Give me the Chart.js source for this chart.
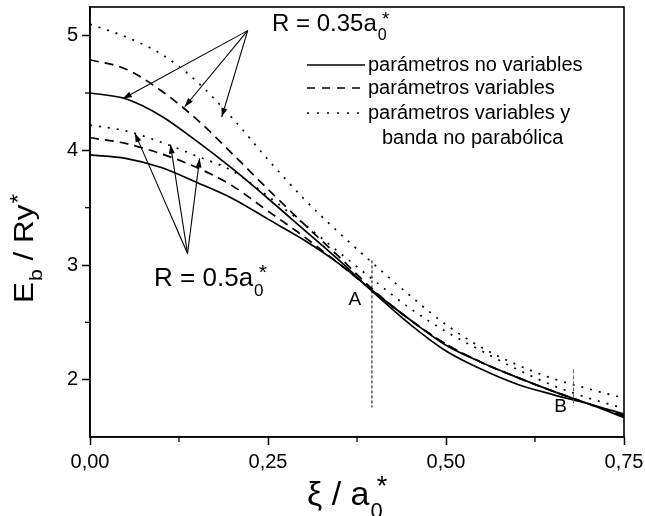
<!DOCTYPE html>
<html><head><meta charset="utf-8">
<script src="https://cdn.jsdelivr.net/npm/chart.js@4.4.0/dist/chart.umd.min.js"></script>
<style>html,body{margin:0;padding:0;background:#fff;} #wrap{width:645px;height:516px;}</style>
</head><body><div id="wrap"><canvas id="c" width="645" height="516"></canvas></div>
<script>
// ---- data ----
const xi = [0,0.05,0.1,0.15,0.2,0.25,0.3,0.35,0.4,0.45,0.5,0.55,0.6,0.65,0.7,0.75];
// R = 0.35 a0*
const noVar035  = [4.50,4.45,4.30,4.08,3.84,3.58,3.31,3.04,2.75,2.48,2.25,2.09,1.96,1.87,1.79,1.70];
const var035    = [4.79,4.71,4.52,4.27,3.97,3.66,3.36,3.07,2.77,2.52,2.31,2.15,2.02,1.90,1.79,1.69];
const nonPar035 = [5.10,4.99,4.84,4.60,4.28,3.92,3.58,3.28,3.00,2.73,2.48,2.28,2.13,2.01,1.92,1.84];
// R = 0.5 a0*
const noVar05   = [3.96,3.93,3.85,3.72,3.58,3.40,3.22,3.01,2.76,2.52,2.30,2.15,2.02,1.90,1.79,1.67];
const var05     = [4.11,4.06,3.97,3.85,3.69,3.47,3.25,3.01,2.76,2.52,2.31,2.15,2.02,1.90,1.79,1.68];
const nonPar05  = [4.22,4.17,4.07,3.95,3.82,3.60,3.36,3.11,2.86,2.62,2.42,2.25,2.09,1.95,1.84,1.75];

const xTicks = [0, 0.25, 0.5, 0.75];
const xMinor = [0.125, 0.375, 0.625];
const yTicks = [2, 3, 4, 5];
const yMinor = [2.5, 3.5, 4.5];

const legendLabels = ['parámetros no variables', 'parámetros variables', 'parámetros variables y', 'banda no parabólica'];

// reference lines (data units)
const lineA = {x: 0.396, y0: 3.04, y1: 1.757};
const lineB = {x: 0.679, y0: 2.09, y1: 1.77};
const labelA = {x: 0.372, y: 2.70};
const labelB = {x: 0.661, y: 1.763};

// arrows (data units)
const arrowFrom035 = [0.2215, 5.044];
const arrowHeads035 = [[0.046, 4.45], [0.133, 4.38], [0.185, 4.29]];
const arrowFrom05 = [0.137, 3.10];
const arrowHeads05 = [[0.063, 4.15], [0.113, 4.05], [0.154, 3.93]];
const label035 = {x: 0.2556, y: 5.038, main: 'R = 0.35a', size: 24};
const label05 = {x: 0.090, y: 2.813, main: 'R = 0.5a', size: 26};

const FONT = "'Liberation Sans', Arial, Helvetica, sans-serif";
const DASH = [9, 6];
const DOT = [2, 7];

function pts(ys) { return xi.map((x, i) => ({x: x, y: ys[i]})); }
function ds(ys, dash) {
  return {data: pts(ys), borderColor: '#000', borderWidth: 1.7, borderDash: dash,
          pointRadius: 0, cubicInterpolationMode: 'monotone', fill: false};
}

function drawSubSup(ctx, x, y, main, size, sub, sup) {
  ctx.font = size + 'px ' + FONT;
  ctx.textAlign = 'left';
  ctx.textBaseline = 'alphabetic';
  ctx.fillText(main, x, y);
  const w = ctx.measureText(main).width;
  ctx.font = Math.round(size * 0.65) + 'px ' + FONT;
  ctx.fillText(sub, x + w + 1, y + size * 0.38);
  const ws = ctx.measureText(sub).width;
  ctx.font = Math.round(size * 0.8) + 'px ' + FONT;
  ctx.fillText(sup, x + w + ws * 0.6, y - size * 0.28);
}

function arrow(ctx, x0, y0, x1, y1) {
  ctx.beginPath(); ctx.moveTo(x0, y0); ctx.lineTo(x1, y1); ctx.stroke();
  const a = Math.atan2(y1 - y0, x1 - x0), L = 9, W = 3;
  ctx.beginPath();
  ctx.moveTo(x1, y1);
  ctx.lineTo(x1 - L * Math.cos(a) + W * Math.sin(a), y1 - L * Math.sin(a) - W * Math.cos(a));
  ctx.lineTo(x1 - L * Math.cos(a) - W * Math.sin(a), y1 - L * Math.sin(a) + W * Math.cos(a));
  ctx.closePath(); ctx.fill();
}

const decor = {
  id: 'decor',
  afterDraw(chart) {
    const ctx = chart.ctx, xs = chart.scales.x, ys = chart.scales.y, ca = chart.chartArea;
    const X = v => xs.getPixelForValue(v), Y = v => ys.getPixelForValue(v);
    ctx.save();
    ctx.strokeStyle = '#000'; ctx.fillStyle = '#000';
    // frame
    ctx.lineWidth = 1.6;
    ctx.strokeRect(ca.left, ca.top, ca.right - ca.left, ca.bottom - ca.top);
    // minor ticks
    ctx.lineWidth = 1.3;
    xMinor.forEach(v => { ctx.beginPath(); ctx.moveTo(X(v), ca.bottom); ctx.lineTo(X(v), ca.bottom + 5); ctx.stroke(); });
    yMinor.forEach(v => { ctx.beginPath(); ctx.moveTo(ca.left, Y(v)); ctx.lineTo(ca.left - 5, Y(v)); ctx.stroke(); });
    // reference lines
    ctx.lineWidth = 1; ctx.setLineDash([3, 2]);
    ctx.beginPath(); ctx.moveTo(X(lineA.x), Y(lineA.y0)); ctx.lineTo(X(lineA.x), Y(lineA.y1)); ctx.stroke();
    ctx.strokeStyle = '#666'; ctx.setLineDash([4, 2]);
    ctx.beginPath(); ctx.moveTo(X(lineB.x), Y(lineB.y0)); ctx.lineTo(X(lineB.x), Y(lineB.y1)); ctx.stroke();
    ctx.setLineDash([]); ctx.strokeStyle = '#000';
    ctx.font = '19px ' + FONT; ctx.textAlign = 'center'; ctx.textBaseline = 'middle';
    ctx.fillText('A', X(labelA.x), Y(labelA.y));
    ctx.fillText('B', X(labelB.x), Y(labelB.y));
    // arrows
    ctx.lineWidth = 1.1;
    arrowHeads035.forEach(h => arrow(ctx, X(arrowFrom035[0]), Y(arrowFrom035[1]), X(h[0]), Y(h[1])));
    arrowHeads05.forEach(h => arrow(ctx, X(arrowFrom05[0]), Y(arrowFrom05[1]), X(h[0]), Y(h[1])));
    drawSubSup(ctx, X(label035.x), Y(label035.y), label035.main, label035.size, '0', '*');
    drawSubSup(ctx, X(label05.x), Y(label05.y), label05.main, label05.size, '0', '*');
    // legend
    const lx0 = ca.left + 217, lx1 = ca.left + 275, tx = ca.left + 278;
    const rows = [ca.top + 58, ca.top + 81, ca.top + 106, ca.top + 131];
    const styles = [[], DASH, DOT];
    ctx.lineWidth = 1.5;
    styles.forEach((st, i) => {
      ctx.setLineDash(st === DASH ? [8, 7] : (st === DOT ? [2, 8] : []));
      ctx.beginPath(); ctx.moveTo(lx0, rows[i]); ctx.lineTo(lx1, rows[i]); ctx.stroke();
    });
    ctx.setLineDash([]);
    ctx.font = '20px ' + FONT; ctx.textAlign = 'left'; ctx.textBaseline = 'middle';
    ctx.fillText(legendLabels[0], tx, rows[0]);
    ctx.fillText(legendLabels[1], tx, rows[1]);
    ctx.fillText(legendLabels[2], tx, rows[2]);
    ctx.fillText(legendLabels[3], tx + 14, rows[3]);
    // axis titles
    drawSubSup(ctx, 307, 505, 'ξ / a', 34, '0', '*');
    ctx.save();
    ctx.translate(33, 303); ctx.rotate(-Math.PI / 2); ctx.scale(1.12, 1);
    ctx.font = '28px ' + FONT; ctx.textAlign = 'left'; ctx.textBaseline = 'alphabetic';
    ctx.fillText('E', 0, 0);
    let w = ctx.measureText('E').width;
    ctx.font = '19px ' + FONT; ctx.fillText('b', w + 1, 9);
    let w2 = w + 1 + ctx.measureText('b').width;
    ctx.font = '28px ' + FONT; ctx.fillText(' / Ry', w2, 0);
    let w3 = w2 + ctx.measureText(' / Ry').width;
    ctx.font = '22px ' + FONT; ctx.fillText('*', w3 + 1, -8);
    ctx.restore();
    ctx.restore();
  }
};

new Chart(document.getElementById('c'), {
  type: 'line',
  data: {
    datasets: [
      ds(noVar035, []), ds(var035, DASH), ds(nonPar035, DOT),
      ds(noVar05, []), ds(var05, DASH), ds(nonPar05, DOT)
    ]
  },
  options: {
    responsive: false, animation: false, devicePixelRatio: 1,
    layout: {padding: {left: 0, top: 7, right: 21, bottom: 0}},
    plugins: {legend: {display: false}, tooltip: {enabled: false}},
    scales: {
      x: {
        type: 'linear', min: 0, max: 0.75,
        afterBuildTicks: s => { s.ticks = xTicks.map(v => ({value: v})); },
        afterFit: s => { s.height = 79; s.paddingLeft = 0; s.paddingRight = 0; },
        ticks: {color: '#000', font: {family: FONT, size: 20}, padding: 5,
                maxRotation: 0, callback: v => v.toFixed(2).replace('.', ',')},
        grid: {drawOnChartArea: false, tickLength: 8, tickColor: '#000', tickWidth: 1.5},
        border: {display: true, color: '#000', width: 1.6}
      },
      y: {
        type: 'linear', min: 1.5, max: 5.25,
        afterBuildTicks: s => { s.ticks = yTicks.map(v => ({value: v})); },
        afterFit: s => { s.width = 90; s.paddingTop = 0; s.paddingBottom = 0; },
        ticks: {color: '#000', font: {family: FONT, size: 20}, padding: 4, callback: v => String(v)},
        grid: {drawOnChartArea: false, tickLength: 8, tickColor: '#000', tickWidth: 1.5},
        border: {display: true, color: '#000', width: 1.6}
      }
    }
  },
  plugins: [decor]
});
</script>
</body></html>
